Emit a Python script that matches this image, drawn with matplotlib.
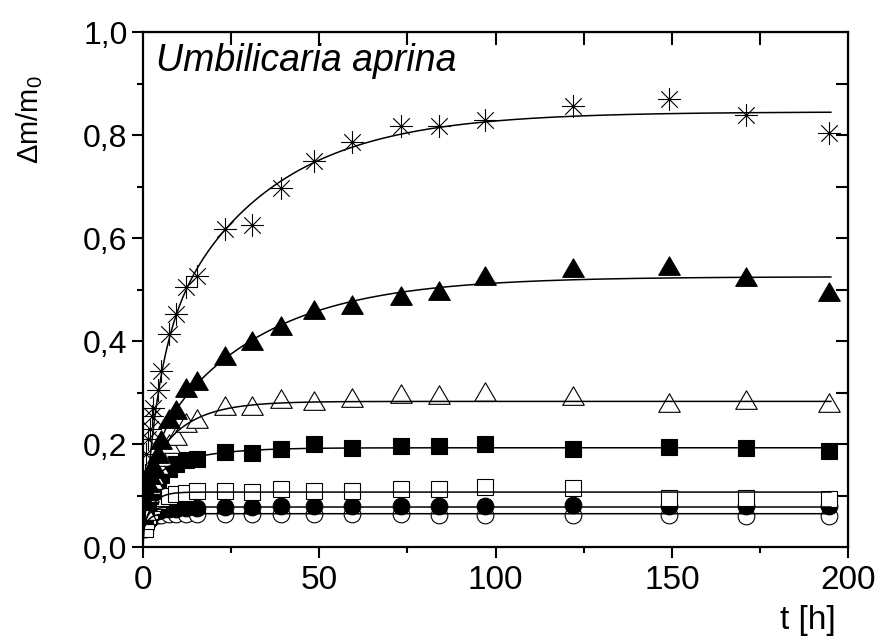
import numpy as np
import matplotlib

matplotlib.use("Agg")
import matplotlib.pyplot as plt
from matplotlib.path import Path

plt.rcParams["font.family"] = ["Liberation Sans", "DejaVu Sans"]
plt.rcParams["mathtext.fontset"] = "custom"
plt.rcParams["mathtext.rm"] = "Liberation Sans"
plt.rcParams["mathtext.it"] = "Liberation Sans:italic"

# sampling times [h]
t_h = [0.5, 1, 1.5, 2, 2.5, 3, 4.2, 5.2, 7.5, 9.4, 12.2, 15.2, 23.3, 30.8,
       39.2, 48.5, 59.3, 73.2, 84, 97, 122, 149, 171, 194.5]

# relative mass gain dm/m0 for each sample set
asterisk = [0.14, 0.18, 0.21, 0.23, 0.255, 0.27, 0.306, 0.342, 0.413, 0.453,
            0.506, 0.527, 0.617, 0.626, 0.698, 0.750, 0.786, 0.818, 0.818,
            0.829, 0.857, 0.870, 0.838, 0.803]
tri_filled = [0.09, 0.11, 0.125, 0.14, 0.151, 0.16, 0.18, 0.209, 0.248, 0.267,
              0.309, 0.322, 0.372, 0.401, 0.430, 0.461, 0.471, 0.487, 0.497,
              0.526, 0.542, 0.545, 0.525, 0.495]
tri_open = [0.07, 0.09, 0.105, 0.12, 0.13, 0.14, 0.16, 0.175, 0.20, 0.216,
            0.242, 0.249, 0.274, 0.274, 0.287, 0.284, 0.290, 0.298, 0.296,
            0.301, 0.293, 0.280, 0.286, 0.279]
sq_filled = [0.06, 0.075, 0.09, 0.10, 0.11, 0.12, 0.13, 0.14, 0.152, 0.161,
             0.170, 0.172, 0.185, 0.182, 0.190, 0.201, 0.192, 0.196, 0.196,
             0.200, 0.190, 0.195, 0.193, 0.187]
sq_open = [0.035, 0.05, 0.06, 0.07, 0.078, 0.085, 0.09, 0.095, 0.10, 0.103,
           0.106, 0.109, 0.109, 0.108, 0.113, 0.109, 0.110, 0.112, 0.112,
           0.117, 0.114, 0.096, 0.096, 0.094]
circ_filled = [0.04, 0.05, 0.055, 0.06, 0.065, 0.068, 0.07, 0.072, 0.074,
               0.075, 0.076, 0.077, 0.078, 0.078, 0.079, 0.079, 0.079, 0.080,
               0.080, 0.080, 0.081, 0.080, 0.079, 0.079]
circ_open = [0.035, 0.045, 0.05, 0.055, 0.058, 0.06, 0.062, 0.063, 0.064,
             0.064, 0.064, 0.064, 0.064, 0.064, 0.065, 0.064, 0.064, 0.064,
             0.063, 0.062, 0.063, 0.062, 0.061, 0.061]

# two-phase uptake fits: y0, a1, tau1, a2, tau2
fit_asterisk = [0.0, 0.35, 4.0, 0.495, 30.0]
fit_tri_filled = [0.03, 0.15, 3.0, 0.345, 30.0]
fit_tri_open = [0.05, 0.08, 2.0, 0.153, 10.0]
fit_sq_filled = [0.04, 0.09, 2.0, 0.063, 12.0]
fit_sq_open = [0.03, 0.077, 2.5, 0.0, 1.0]
fit_circ_filled = [0.035, 0.043, 1.5, 0.0, 1.0]
fit_circ_open = [0.03, 0.035, 1.5, 0.0, 1.0]

star_path = Path(
    [(0, -1), (0, 1), (-1, 0), (1, 0),
     (-0.72, -0.72), (0.72, 0.72), (-0.72, 0.72), (0.72, -0.72)],
    [Path.MOVETO, Path.LINETO] * 4,
)
tri_path = Path([(-1, -0.82), (1, -0.82), (0, 0.9), (-1, -0.82)],
                [Path.MOVETO, Path.LINETO, Path.LINETO, Path.CLOSEPOLY])


def uptake(t, p):
    y0, a1, tau1, a2, tau2 = p
    return y0 + a1 * (1 - np.exp(-t / tau1)) + a2 * (1 - np.exp(-t / tau2))


fig = plt.figure(figsize=(8.82, 6.4), dpi=100)
ax = fig.add_axes([0.162, 0.145, 0.800, 0.805])

sets = [
    (circ_open, fit_circ_open, "o", 12, "white"),
    (circ_filled, fit_circ_filled, "o", 12, "black"),
    (sq_open, fit_sq_open, "s", 11, "white"),
    (sq_filled, fit_sq_filled, "s", 11, "black"),
    (tri_open, fit_tri_open, tri_path, 15.5, "white"),
    (tri_filled, fit_tri_filled, tri_path, 15.5, "black"),
    (asterisk, fit_asterisk, star_path, 16.5, "none"),
]

t_fit = np.linspace(0, 195, 600)
for values, fit, marker, size, face in sets:
    ax.plot(t_h, values, linestyle="none", marker=marker, ms=size,
            mfc=face, mec="black", mew=0.8, zorder=2)
for values, fit, marker, size, face in sets:
    ax.plot(t_fit, uptake(t_fit, fit), color="black", lw=1.1, zorder=3)

ax.set_xlim(0, 200)
ax.set_ylim(0, 1.0)
ax.set_xticks([0, 50, 100, 150, 200])
ax.set_xticks([25, 75, 125, 175], minor=True)
ax.set_yticks(np.arange(0, 1.01, 0.2))
ax.set_yticks([0.1, 0.3, 0.5, 0.7, 0.9], minor=True)
ax.set_yticklabels([f"{v:.1f}".replace(".", ",") for v in np.arange(0, 1.01, 0.2)])
ax.tick_params(axis="both", which="major", direction="out", length=8,
               width=1.5, labelsize=23)
ax.tick_params(axis="x", which="major", labelsize=24, pad=5)
ax.tick_params(axis="y", which="major", pad=3)
ax.tick_params(axis="both", which="minor", direction="out", length=4, width=1.5)
for s in ax.spines.values():
    s.set_linewidth(1.6)

# mirrored inward ticks on top and right
top = ax.secondary_xaxis("top")
top.set_xticks(np.arange(25, 200, 25))
top.tick_params(direction="in", length=9, width=1.5, labeltop=False)
right = ax.secondary_yaxis("right")
right.set_yticks(np.arange(0.1, 1.0, 0.1))
right.tick_params(direction="in", length=9, width=1.5, labelright=False)

ax.text(3.7, 0.925, "Umbilicaria aprina", fontsize=27, style="italic",
        ha="left", va="baseline")
ax.text(-0.16, 0.83, r"$\Delta$m/m$_0$", transform=ax.transAxes,
        rotation=90, fontsize=21, ha="center", va="center")
ax.text(188.5, -0.143, "t [h]", transform=ax.get_xaxis_transform(),
        fontsize=24, ha="center", va="center")

fig.savefig("out.png", dpi=100)
